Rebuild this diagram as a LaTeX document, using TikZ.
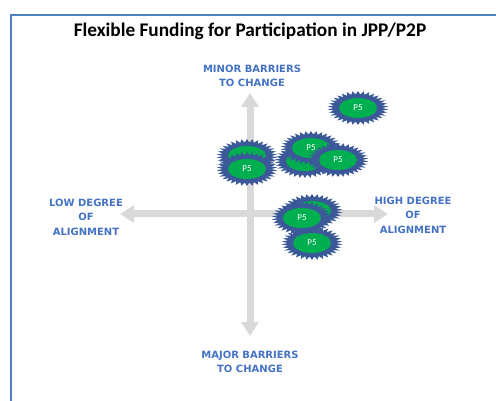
\documentclass[tikz,border=0pt]{standalone}
\usepackage{fontspec}
\setmainfont{Carlito}
\newfontfamily\lblfont{DejaVu Sans}
\usetikzlibrary{shapes.geometric,arrows.meta}
\definecolor{frameblue}{RGB}{79,129,189}
\definecolor{lblblue}{RGB}{68,114,196}
\definecolor{axisgray}{RGB}{217,217,217}
\definecolor{burstblue}{RGB}{59,89,152}
\definecolor{coregreen}{RGB}{0,176,80}
\tikzset{
  axislbl/.style={text=lblblue, align=center, inner sep=0pt,
    font=\lblfont\fontsize{10}{14.5}\selectfont\bfseries},
  axisline/.style={draw=axisgray, line width=7pt,
    {Triangle[width=17pt,length=14pt]}-{Triangle[width=17pt,length=14pt]}},
  burst/.style={star, star points=34, star point ratio=1.25, fill=burstblue,
    minimum size=34pt, inner sep=0pt, xscale=1.8},
  core/.style={ellipse, fill=coregreen, minimum width=38pt, minimum height=20pt,
    inner sep=0pt, text=white, font=\fontsize{9}{10}\selectfont}
}
\begin{document}
\begin{tikzpicture}[x=1pt,y=-1pt]
  \useasboundingbox (0,0) rectangle (496,401);
  \draw[frameblue, line width=2pt] (10.5,15) rectangle (520,420);
  \node[font=\fontsize{19.3}{21}\selectfont\bfseries] (title) at (250,31)
    {Flexible Funding for Participation in JPP/P2P};
  % axes
  \coordinate (top) at (250,93);
  \coordinate (bot) at (250,336);
  \coordinate (lft) at (120,214);
  \coordinate (rgt) at (388,214);
  \draw[axisline] (bot) -- (top);
  \draw[axisline] (lft) -- (rgt);
  \node[axislbl] (minor) at (252,76) {MINOR BARRIERS\\TO CHANGE};
  \node[axislbl] (major) at (250,362) {MAJOR BARRIERS\\TO CHANGE};
  \node[axislbl] (low) at (86,217) {LOW DEGREE\\OF\\ALIGNMENT};
  \node[axislbl] (high) at (413,215) {HIGH DEGREE\\OF\\ALIGNMENT};
  % projects
  \node[burst] (pa-b) at (358,108) {};
  \node[core] (pa) at (358,108) {P5};
  \node[burst] (pb1-b) at (247,156) {};
  \node[core] (pb1) at (247,156) {};
  \node[burst] (pb2-b) at (247,169) {};
  \node[core] (pb2) at (247,169) {P5};
  \node[burst] (pc1-b) at (305,161) {};
  \node[core] (pc1) at (305,161) {};
  \node[burst] (pc2-b) at (311,148) {};
  \node[core] (pc2) at (311,148) {P5};
  \node[burst] (pc3-b) at (338,160) {};
  \node[core] (pc3) at (338,160) {P5};
  \node[burst] (pd1-b) at (312,243) {};
  \node[core] (pd1) at (312,243) {P5};
  \node[burst] (pd2-b) at (312,211) {};
  \node[core] (pd2) at (312,211) {};
  \node[burst] (pd3-b) at (302,218) {};
  \node[core] (pd3) at (302,218) {P5};
\end{tikzpicture}
\end{document}
